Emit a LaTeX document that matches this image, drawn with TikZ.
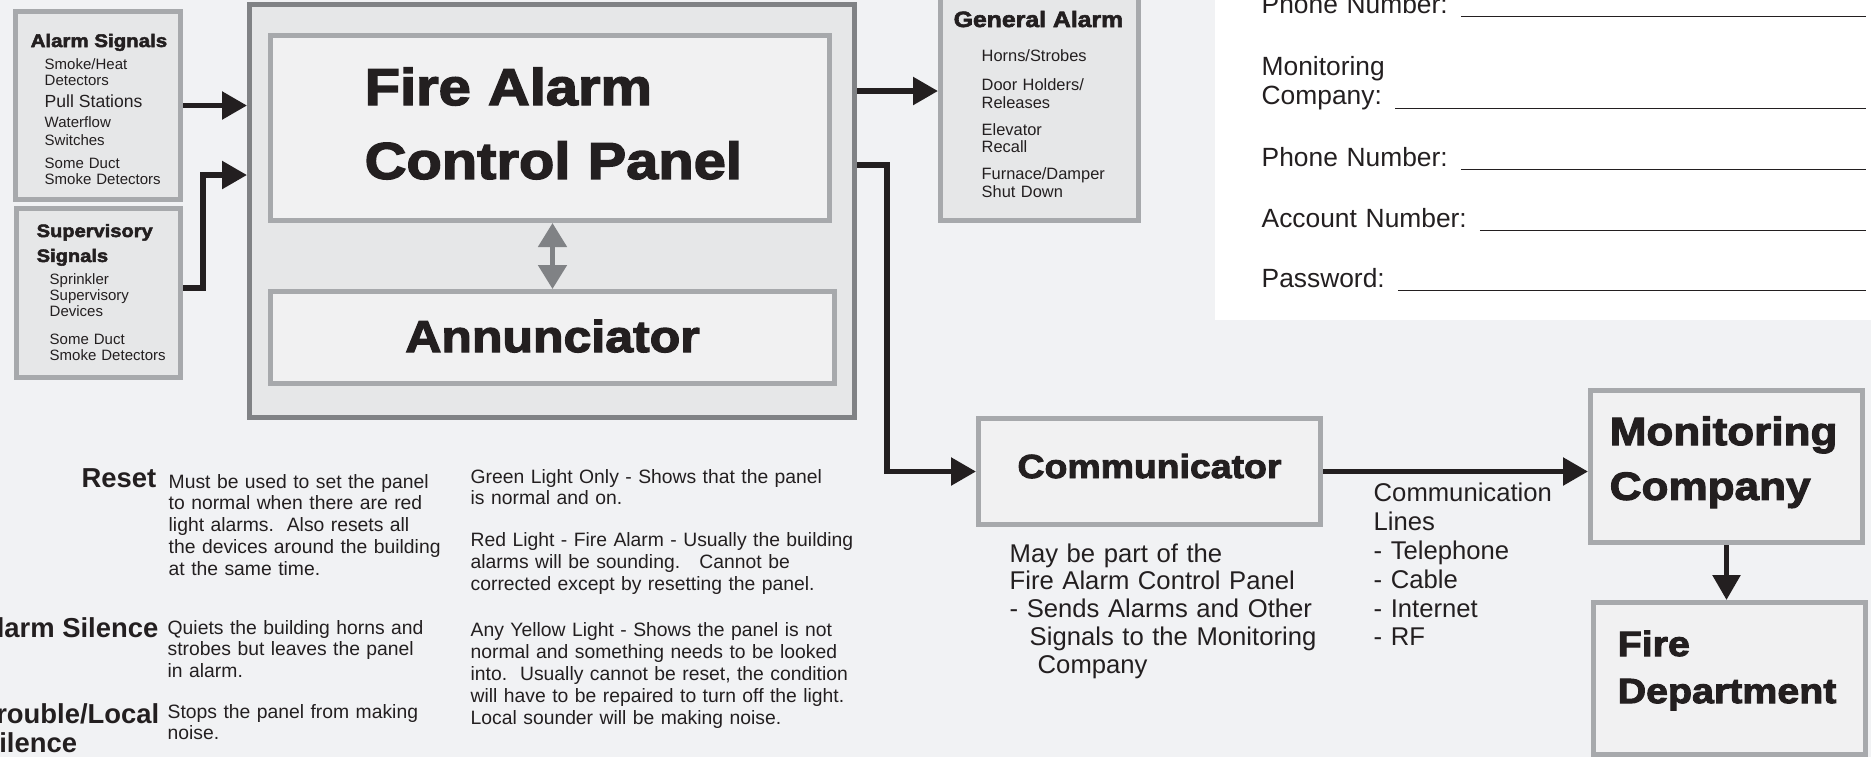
\documentclass[tikz,border=0pt]{standalone}
\usepackage{fontspec}
\setmainfont{Liberation Sans}
\newfontfamily\heavyfont{Liberation Sans}[BoldFeatures={FakeBold=2.8,FakeStretch=1.12}]
\newcommand\heavy{\heavyfont\bfseries}
\newcommand\blankline{\leaders\hrule height -0.1em depth 0.16em\hskip 0pt plus 1filll\kern0pt}
\usetikzlibrary{arrows.meta,positioning}
\definecolor{pagegray}{HTML}{F1F2F4}
\definecolor{boxgray}{HTML}{E6E7E8}
\definecolor{innergray}{HTML}{F1F1F2}
\definecolor{rimgray}{HTML}{A7A9AC}
\definecolor{darkrim}{HTML}{808285}
\definecolor{ink}{HTML}{231F20}

\begin{document}
\begin{tikzpicture}[x=0.1mm, y=-0.1mm,
        every node/.style={inner sep=0pt, text=ink},
        box/.style={draw=rimgray, line width=0.5mm, fill=boxgray},
        inbox/.style={draw=rimgray, line width=0.5mm, fill=innergray},
        blk/.style={anchor=base west, align=left},
        key/.style={anchor=base east, font=\bfseries\fontsize{7.8pt}{8.5pt}\selectfont},
        note/.style={blk, font=\fontsize{5.5pt}{6.2pt}\selectfont},
        small/.style={blk, font=\fontsize{4.27pt}{4.55pt}\selectfont, text width=13.5mm},
        field/.style={blk, font=\fontsize{7.5pt}{8.5pt}\selectfont, text width=60.4mm},
        flow/.style={color=ink, line width=0.55mm, -{Triangle[length=2.5mm, width=2.7mm]}},
        link/.style={color=darkrim, line width=0.5mm, {Triangle[length=2.4mm, width=2.8mm]}-{Triangle[length=2.4mm, width=2.8mm]}}]
        \useasboundingbox (0,0) rectangle (1871,757);
        \fill[pagegray] (0,0) rectangle (1871,757);
        \fill[white] (1215,-10) rectangle (1880,320);

        \node[box, minimum width=16.5mm, minimum height=18.8mm] at (98, 105.5)(alarm){};
        \node[box, minimum width=16.4mm, minimum height=16.9mm] at (98.5, 293)(super){};
        \node[box, draw=darkrim, minimum width=60.5mm, minimum height=41.3mm] at (552, 211)(panel){};
        \node[inbox, minimum width=55.9mm, minimum height=18.5mm] at (550, 128)(facp){};
        \node[inbox, minimum width=56.4mm, minimum height=9.2mm, text height=3.2mm, text depth=0.3mm,
            font=\heavy\fontsize{12.7pt}{14pt}\selectfont] at (552.5, 337.5)(annun){Annunciator};
        \node[box, minimum width=19.8mm, minimum height=23.8mm] at (1039.5, 101.5)(general){};
        \node[inbox, minimum width=34.2mm, minimum height=10.6mm, text height=2.4mm, text depth=1.1mm,
            font=\heavy\fontsize{9.5pt}{11pt}\selectfont] at (1149.5, 471.5)(comm){Communicator};
        \node[inbox, minimum width=27.2mm, minimum height=15.2mm] at (1726.5, 466.5)(mon){};
        \node[inbox, minimum width=27.2mm, minimum height=15.2mm] at (1729.5, 678.5)(fire){};

        \node[blk, font=\heavy\fontsize{5.2pt}{6pt}\selectfont] at (30, 47)(alarmhead){Alarm Signals};
        \node[small] at (44, 69)(alarmlist){Smoke/Heat\\Detectors\\[0.6mm]{\fontsize{5pt}{5pt}\selectfont Pull Stations}\\[0.5mm]Waterflow\\[0.2mm]Switches\\[0.7mm]Some Duct\\Smoke Detectors};
        \node[blk, font=\heavy\fontsize{5.1pt}{7.1pt}\selectfont, text width=14mm] at (36, 237)(superhead){Supervisory\\Signals};
        \node[small] at (49, 284)(superlist){Sprinkler\\Supervisory\\Devices\\[1.3mm]Some Duct\\Smoke Detectors};
        \node[blk, font=\heavy\fontsize{14.7pt}{21pt}\selectfont, text width=45mm] at (364, 105)(facptxt){Fire Alarm\\Control Panel};
        \node[blk, font=\heavy\fontsize{6.3pt}{7pt}\selectfont] at (953, 27)(generalhead){General Alarm};
        \node[blk, font=\fontsize{4.67pt}{5.12pt}\selectfont, text width=15mm] at (981, 61)(generallist){Horns/Strobes\\[1.1mm]Door Holders/\\Releases\\[0.9mm]Elevator\\Recall\\[0.9mm]Furnace/Damper\\Shut Down};
        \node[blk, font=\heavy\fontsize{11.2pt}{15.6pt}\selectfont, text width=26mm] at (1609, 445)(montxt){Monitoring\\Company};
        \node[blk, font=\heavy\fontsize{10pt}{13.4pt}\selectfont, text width=24mm] at (1617, 656)(firetxt){Fire\\Department};

        \node[field] at (1261, 13)(phone){Phone Number: \blankline};
        \node[field] at (1261, 75)(company){Monitoring\\Company: \blankline};
        \node[field] at (1261, 166)(phonetwo){Phone Number: \blankline};
        \node[field] at (1261, 227)(account){Account Number: \blankline};
        \node[field] at (1261, 287)(password){Password: \blankline};

        \node[blk, font=\fontsize{7.3pt}{7.9pt}\selectfont, text width=36mm] at (1009, 562)(commnote){May be part of the\\Fire Alarm Control Panel\\- Sends Alarms and Other\\\hspace*{2mm}Signals to the Monitoring\\\hspace*{2.8mm}Company};
        \node[blk, font=\fontsize{7.3pt}{8.25pt}\selectfont, text width=20mm] at (1373, 501)(lines){Communication\\Lines\\- Telephone\\- Cable\\- Internet\\- RF};

        \node[key] at (157, 487)(resetkey){Reset};
        \node[note, text width=31mm] at (168, 488)(resetnote){Must be used to set the panel\\to normal when there are red\\light alarms.\ \ Also resets all\\the devices around the building\\at the same time.};
        \node[key] at (159, 637)(silencekey){Alarm Silence};
        \node[note, text width=31mm] at (167, 634)(silencenote){Quiets the building horns and\\strobes but leaves the panel\\in alarm.};
        \node[key] at (160, 723)(troublekey){\begin{tabular}[t]{@{}l@{}}Trouble/Local\\Silence\end{tabular}};
        \node[note, text width=31mm] at (167, 718)(troublenote){Stops the panel from making\\noise.};
        \node[note, text width=41mm] at (470, 483)(lampnote){Green Light Only - Shows that the panel\\is normal and on.\\[2mm]Red Light - Fire Alarm - Usually the building\\alarms will be sounding.\ \ \ Cannot be\\corrected except by resetting the panel.\\[2.5mm]Any Yellow Light - Shows the panel is not\\normal and something needs to be looked\\into.\ \ Usually cannot be reset, the condition\\will have to be repaired to turn off the light.\\Local sounder will be making noise.};

        \coordinate (supin) at ([yshift=3.6mm]panel.west);
        \coordinate (gaout) at ([yshift=12mm]panel.east);
        \coordinate (commout) at ([yshift=4.6mm]panel.east);

        \path[flow]
            (alarm.east)edge(alarm.east -| panel.west)
            (gaout)edge(gaout -| general.west)
            (comm.east)edge(comm.east -| mon.west)
            (mon.south)edge(mon.south |- fire.north)
            ;
        \draw[flow] ([yshift=0.5mm]super.east) -- ++(20,0) |- (supin);
        \draw[flow] (commout) -- ++(30,0) |- (comm.west);
        \path[link] (annun.north |- facp.south)edge(annun.north);
    \end{tikzpicture}
\end{document}
